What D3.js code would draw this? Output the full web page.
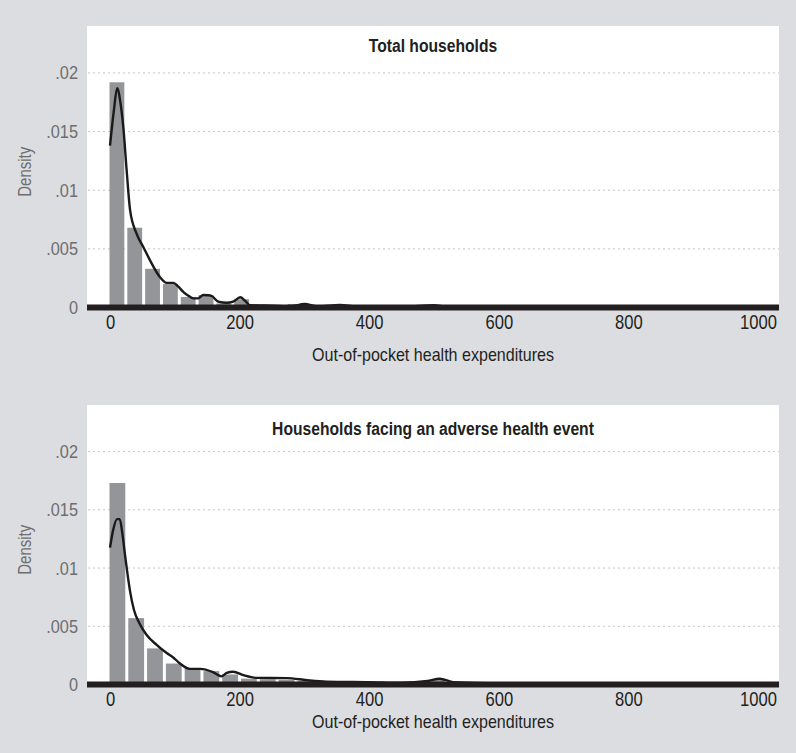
<!DOCTYPE html>
<html>
<head>
<meta charset="utf-8">
<script src="https://cdn.jsdelivr.net/npm/d3@7"></script>
<style>
  body { margin: 0; background: #dcdde0; }
  svg { display: block; }
  text { font-family: "Liberation Sans", Arial, sans-serif; }
</style>
</head>
<body>
<div class="chart"></div>
<script>
const W = 796, H = 753;

// data
const panelTitles = ["Total households", "Households facing an adverse health event"];
const xTitle = "Out-of-pocket health expenditures";
const yTitle = "Density";
const xTicks = [0, 200, 400, 600, 800, 1000];
const yTicks = [0, 0.005, 0.01, 0.015, 0.02];
const yTickLabels = ["0", ".005", ".01", ".015", ".02"];

const totalBinWidth = 27.5;
const totalBars = [0.0192, 0.0068, 0.0033, 0.0020, 0.0009, 0.00106, 0.00035, 0.0007,
  0.0002, 0.00012, 0.0003, 0.0002, 0.0002, 0.0001, 0.0001, 0.00008, 0.00008, 0.00008,
  0.0002, 0.00006, 0.00005, 0.00005, 0.00004, 0.00004, 0.00004, 0.00003, 0.00003,
  0.00003, 0.00003, 0.00002, 0.00002, 0.00002, 0.00002, 0.00002, 0.00002, 0.00002];
const totalKdeX = [0, 6, 11, 16, 20.5, 25.7, 31, 41, 52, 62, 77, 87.5, 98, 105, 113, 121, 128.5,
  136, 144, 152, 157, 167, 180, 190, 201, 208, 216, 250, 280, 300, 320, 355, 380, 450, 500, 520,
  600, 800, 1000];
const totalKdeY = [0.0138, 0.0168, 0.0187, 0.0175, 0.0154, 0.0117, 0.0083, 0.0063, 0.0051,
  0.0040, 0.0026, 0.0021, 0.0021, 0.0018, 0.00134, 0.0010, 0.00078, 0.00078, 0.00106,
  0.00105, 0.00098, 0.0005, 0.0004, 0.0005, 0.00087, 0.0006, 0.0002, 0.00015, 0.0001,
  0.0003, 0.0001, 0.00022, 0.0001, 0.00005, 0.0002, 0.00005, 0.00002, 0.00001, 0.00001];

const adverseBinWidth = 29;
const adverseBars = [0.0173, 0.0057, 0.0031, 0.0018, 0.0014, 0.00115, 0.00086, 0.0005,
  0.00045, 0.0004, 0.0003, 0.00025, 0.0002, 0.0002, 0.00015, 0.0001, 0.0001, 0.0004,
  0.00015, 0.0001, 0.00008, 0.00006, 0.00005, 0.00004, 0.00004, 0.00003, 0.00003,
  0.00003, 0.00002, 0.00002, 0.00002, 0.00002, 0.00002, 0.00002];
const adverseKdeX = [0, 5, 11, 15, 19, 23, 27, 31, 37, 46, 56, 72, 87.5, 98, 108, 123, 139, 159,
  172, 180, 190, 206, 226, 273, 304, 334, 400, 450, 490, 509, 530, 600, 700, 1000];
const adverseKdeY = [0.01175, 0.0133, 0.0142, 0.0142, 0.0130, 0.0112, 0.0095, 0.0080, 0.0064,
  0.0052, 0.0043, 0.0034, 0.0027, 0.0023, 0.0018, 0.00134, 0.00134, 0.00106, 0.0007,
  0.0010, 0.0011, 0.0008, 0.00057, 0.00055, 0.00037, 0.00025, 0.0002, 0.00015, 0.0003,
  0.0005, 0.0002, 0.0001, 0.00003, 0.00001];

const panels = [
  { title: panelTitles[0], bars: totalBars, binWidth: totalBinWidth, kx: totalKdeX, ky: totalKdeY,
    top: 26, base: 307.5, titleY: 52, tickY: 315, xTitleY: 361 },
  { title: panelTitles[1], bars: adverseBars, binWidth: adverseBinWidth, kx: adverseKdeX, ky: adverseKdeY,
    top: 405, base: 684.5, titleY: 435, tickY: 692, xTitleY: 728 }
];

const left = 87, right = 779;

const svg = d3.select(".chart").append("svg")
  .attr("width", W)
  .attr("height", H);

svg.append("rect").attr("width", W).attr("height", H).attr("fill", "#dcdde0");

let x = d3.scaleLinear().domain([0, 1000]).range([110, 758]);

panels.forEach(p => {
  const g = svg.append("g");
  let y = d3.scaleLinear().domain([0, 0.024]).range([p.base, p.top]);

  g.append("rect")
    .attr("x", left).attr("y", p.top)
    .attr("width", right - left).attr("height", p.base - p.top)
    .attr("fill", "#fff");

  // dotted grid
  g.selectAll(".grid").data(yTicks.slice(1)).enter().append("line")
    .attr("x1", left + 1).attr("x2", right)
    .attr("y1", d => y(d)).attr("y2", d => y(d))
    .attr("stroke", "#c4c5c8").attr("stroke-width", 1)
    .attr("stroke-dasharray", "2,3");

  // y axis labels (condensed look by squeezing horizontally)
  const yAxis = d3.axisLeft(y).tickValues(yTicks)
    .tickFormat((d, i) => yTickLabels[i]).tickSize(0).tickPadding(0);
  const ya = g.append("g").attr("transform", `translate(${left - 9},0)`).call(yAxis);
  ya.select(".domain").remove();
  ya.selectAll("text").attr("font-size", 19).attr("fill", "#6d6e71")
    .attr("x", 0).attr("transform", "scale(0.86,1)");

  // histogram bars
  g.selectAll(".bar").data(p.bars).enter().append("rect")
    .attr("x", (d, i) => x(i * p.binWidth) - 0.5)
    .attr("width", x(p.binWidth) - x(0) - 3)
    .attr("y", d => y(d))
    .attr("height", d => y(0) - y(d))
    .attr("fill", "#939598");

  // kernel density line
  const line = d3.line().x(d => x(d[0])).y(d => y(d[1])).curve(d3.curveMonotoneX);
  g.append("path")
    .datum(p.kx.map((v, i) => [v, p.ky[i]]))
    .attr("d", line)
    .attr("fill", "none")
    .attr("stroke", "#1a1a1a")
    .attr("stroke-width", 2.4)
    .attr("stroke-linejoin", "round");

  // x axis bar
  g.append("line")
    .attr("x1", left).attr("x2", right)
    .attr("y1", p.base).attr("y2", p.base)
    .attr("stroke", "#231f20").attr("stroke-width", 6);

  const xAxis = d3.axisBottom(x).tickValues(xTicks).tickSize(0).tickPadding(0).tickFormat(d3.format("d"));
  const xa = g.append("g").attr("transform", `translate(0,${p.tickY})`).call(xAxis);
  xa.select(".domain").remove();
  xa.selectAll("text").attr("font-size", 20).attr("fill", "#231f20")
    .attr("dy", "0.72em").attr("y", 0).attr("transform", "scale(0.83,1)");

  g.append("text")
    .attr("x", 433).attr("y", p.xTitleY)
    .attr("text-anchor", "middle")
    .attr("font-size", 19).attr("fill", "#231f20")
    .attr("textLength", 242).attr("lengthAdjust", "spacingAndGlyphs")
    .text(xTitle);

  g.append("text")
    .attr("transform", `translate(433,${p.titleY}) scale(0.87,1)`)
    .attr("text-anchor", "middle")
    .attr("font-size", 18).attr("font-weight", "bold").attr("fill", "#231f20")
    .text(p.title);

  g.append("text")
    .attr("transform", `translate(31,${(p.top + p.base) / 2 + 5}) rotate(-90)`)
    .attr("text-anchor", "middle")
    .attr("font-size", 18).attr("fill", "#6d6e71")
    .attr("textLength", 50).attr("lengthAdjust", "spacingAndGlyphs")
    .text(yTitle);
});
</script>
</body>
</html>
